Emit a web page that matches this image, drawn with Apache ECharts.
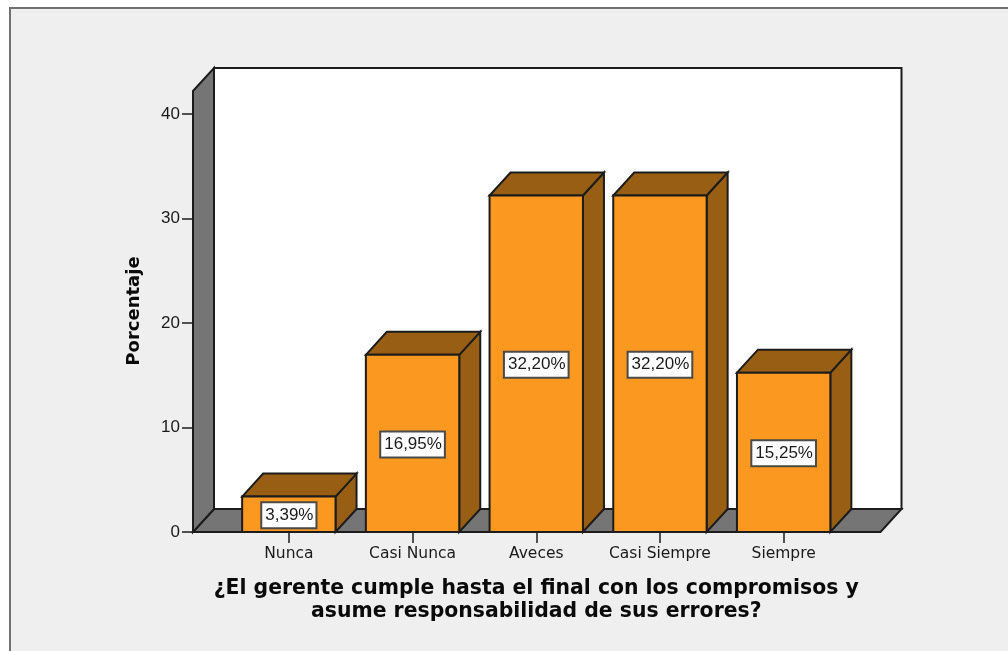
<!DOCTYPE html>
<html><head><meta charset="utf-8">
<style>html,body{margin:0;padding:0;background:#fff}#c{width:1008px;height:651px}</style>
<script src="https://cdn.jsdelivr.net/npm/echarts@6/dist/echarts.min.js"></script>
</head><body><div id="c"></div>
<script>
const categories = ['Nunca','Casi Nunca','Aveces','Casi Siempre','Siempre'];
const percentValues = [3.39,16.95,32.20,32.20,15.25];
const yTicks = {min:0,max:40,interval:10};
const xTitle = '¿El gerente cumple hasta el final con los compromisos y\nasume responsabilidad de sus errores?';
const yTitle = 'Porcentaje';

const DX=21, DY=23, LINE='#1c1c1c', WALL='#757575', FRONT='#fa981f', SHADE='#985e13';
const BAR_RATIO=0.755, LEFT_EXT=34, RIGHT_EXT=35;
const poly=(pts,fill)=>({type:'polygon',shape:{points:pts},style:{fill:fill,stroke:LINE,lineWidth:2,lineJoin:'miter'}});

function renderWalls(params,api){
  const o=api.coord([0,0]), t=api.coord([0,40]), band=api.size([1,0])[0];
  const xl=o[0]-band/2-LEFT_EXT, xr=o[0]+band*4.5+RIGHT_EXT, yb=o[1], yt=t[1]-DY;
  return {type:'group',children:[
    poly([[xl+DX,yt-DY],[xr+DX,yt-DY],[xr+DX,yb-DY],[xl+DX,yb-DY]],'#ffffff'),
    poly([[xl,yb],[xl+DX,yb-DY],[xr+DX,yb-DY],[xr,yb]],WALL),
    poly([[xl,yt],[xl+DX,yt-DY],[xl+DX,yb-DY],[xl,yb]],WALL)
  ]};
}
function renderBar(params,api){
  const c=api.coord([api.value(0),api.value(1)]), b=api.coord([api.value(0),0]);
  const w=api.size([1,0])[0]*BAR_RATIO, l=c[0]-w/2, r=c[0]+w/2, top=c[1], bot=b[1];
  const txt=api.value(1).toFixed(2).replace('.',',')+'%';
  return {type:'group',children:[
    poly([[r,top],[r+DX,top-DY],[r+DX,bot-DY],[r,bot]],SHADE),
    poly([[l,top],[l+DX,top-DY],[r+DX,top-DY],[r,top]],SHADE),
    poly([[l,top],[r,top],[r,bot],[l,bot]],FRONT),
    {type:'text',style:{x:c[0],y:(top+bot)/2+1,text:txt,align:'center',verticalAlign:'middle',
      font:'17px "Liberation Sans"',fill:'#1a1a1a',backgroundColor:'#fff',borderColor:'#4a4a4a',borderWidth:2,padding:[4,2,3,3]}}
  ]};
}

const chart=echarts.init(document.getElementById('c'),null,{renderer:'canvas'});
chart.setOption({
  animation:false,
  backgroundColor:'#ffffff',
  graphic:[{type:'rect',z:-10,shape:{x:10,y:8,width:1020,height:670},style:{fill:'#efefef',stroke:'#707070',lineWidth:2}}],
  grid:{left:227,top:114,width:618.5,height:418},
  xAxis:{type:'category',data:categories,
    axisLine:{show:false},
    axisTick:{show:true,alignWithLabel:true,length:11,lineStyle:{color:LINE,width:1.5}},
    axisLabel:{margin:14,color:'#1a1a1a',fontSize:15.5,fontFamily:'DejaVu Sans',interval:0},
    name:xTitle,nameLocation:'middle',nameGap:45,
    nameTextStyle:{color:'#0a0a0a',fontSize:20.4,fontWeight:'bold',fontFamily:'DejaVu Sans',lineHeight:23}},
  yAxis:{type:'value',min:yTicks.min,max:yTicks.max,interval:yTicks.interval,offset:34,
    splitLine:{show:false},
    axisLine:{show:false},
    axisTick:{show:true,length:11,lineStyle:{color:LINE,width:1.5}},
    axisLabel:{margin:13,color:'#1a1a1a',fontSize:17,fontFamily:'Liberation Sans'},
    name:yTitle,nameLocation:'middle',nameGap:50,
    nameTextStyle:{color:'#0a0a0a',fontSize:18,fontWeight:'bold',fontFamily:'DejaVu Sans',padding:[0,0,0,24]}},
  series:[
    {type:'custom',name:'walls',data:[[0,0]],renderItem:renderWalls,clip:false,silent:true,z:1},
    {type:'custom',name:'Porcentaje',data:categories.map((c,i)=>[i,percentValues[i]]),
     encode:{x:0,y:1},renderItem:renderBar,clip:false,silent:true,z:2}
  ]
});
</script></body></html>
